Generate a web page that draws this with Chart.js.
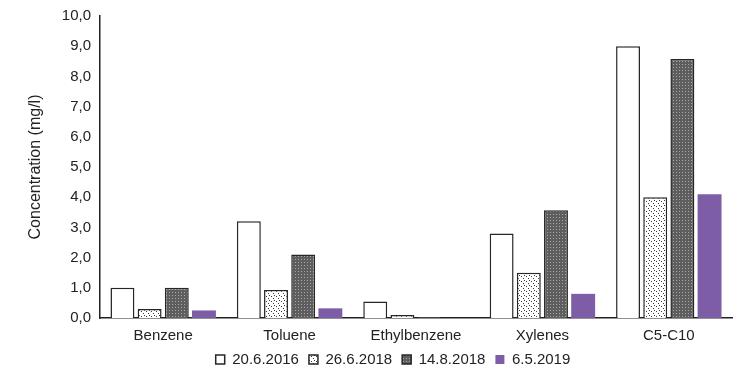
<!DOCTYPE html>
<html>
<head>
<meta charset="utf-8">
<script src="https://cdn.jsdelivr.net/npm/chart.js@4"></script>
<style>
  html, body { margin: 0; padding: 0; background: #fff; }
  #wrap { width: 740px; height: 369px; }
</style>
</head>
<body>
<div id="wrap"><canvas id="concChart"></canvas></div>
<script>
const categories = ["Benzene", "Toluene", "Ethylbenzene", "Xylenes", "C5-C10"];
const dates = ["20.6.2016", "26.6.2018", "14.8.2018", "6.5.2019"];
const s2016 = [1.0, 3.2, 0.55, 2.8, 9.0];
const s2018a = [0.3, 0.93, 0.1, 1.5, 4.0];
const s2018b = [1.0, 2.1, 0.03, 3.57, 8.58];
const s2019 = [0.25, 0.32, 0.0, 0.8, 4.1];

// motifs de remplissage
function dotPattern() {
    const c = document.createElement("canvas");
    c.width = 5; c.height = 5;
    const g = c.getContext("2d");
    g.fillStyle = "#fff";
    g.fillRect(0, 0, 5, 5);
    g.fillStyle = "#3a3a3a";
    g.fillRect(1, 1, 1, 1);
    g.fillRect(3, 3, 1, 1);
    g.fillRect(4, 0, 1, 1);
    return g.createPattern(c, "repeat");
}

function gridPattern() {
    const c = document.createElement("canvas");
    c.width = 3; c.height = 3;
    const g = c.getContext("2d");
    g.fillStyle = "#5e5e5e";
    g.fillRect(0, 0, 3, 3);
    g.fillStyle = "#a8a8a8";
    g.fillRect(1, 1, 1, 1);
    return g.createPattern(c, "repeat");
}

// légende plus compacte, décalée vers la droite
const legendTweak = {
    id: "legendTweak",
    afterInit(chart) {
        const orig = chart.legend.fit;
        chart.legend.fit = function () {
            orig.call(this);
            this.height -= 20;
        };
    },
    afterLayout(chart) {
        const lg = chart.legend;
        lg.left += 27;
        lg.right += 27;
        lg.top -= 12;
        lg.height += 12;
    }
};

const font = "'Liberation Sans', Arial, sans-serif";
Chart.defaults.font.family = font;
Chart.defaults.color = "#222";

const border = "#262626";

new Chart(document.getElementById("concChart"), {
    type: "bar",
    data: {
        labels: categories,
        datasets: [
            { label: dates[0], data: s2016, backgroundColor: "#fff", borderColor: border, borderWidth: 1.5 },
            { label: dates[1], data: s2018a, backgroundColor: dotPattern(), borderColor: border, borderWidth: 1.5 },
            { label: dates[2], data: s2018b, backgroundColor: gridPattern(), borderColor: border, borderWidth: 1.5 },
            { label: dates[3], data: s2019, backgroundColor: "#7d5ea6", borderColor: "#7d5ea6", borderWidth: 0 }
        ]
    },
    options: {
        responsive: true,
        maintainAspectRatio: false,
        animation: false,
        layout: { padding: { left: 0, right: 8, top: 16, bottom: 0 } },
        categoryPercentage: 0.86,
        barPercentage: 0.88,
        plugins: {
            tooltip: { enabled: false },
            legend: {
                position: "bottom",
                labels: {
                    boxWidth: 9,
                    boxHeight: 9,
                    padding: 10,
                    font: { size: 15 },
                    color: "#222"
                }
            }
        },
        scales: {
            x: {
                grid: { display: false, drawTicks: false },
                border: { color: "#222", width: 1.5 },
                ticks: { font: { size: 15 }, padding: 9, color: "#222" }
            },
            y: {
                min: 0,
                max: 10,
                grid: { display: false, drawTicks: true, tickLength: 5, tickColor: "#222", drawOnChartArea: false },
                border: { color: "#222", width: 1.5 },
                ticks: {
                    stepSize: 1,
                    font: { size: 15 },
                    padding: 4,
                    color: "#222",
                    callback: v => v.toFixed(1).replace(".", ",")
                },
                title: {
                    display: true,
                    text: "Concentration (mg/l)",
                    font: { size: 16 },
                    color: "#222",
                    padding: { top: 26, bottom: 0 }
                },
                afterFit: scale => { scale.width = 100; }
            }
        }
    },
    plugins: [legendTweak]
});
</script>
</body>
</html>
